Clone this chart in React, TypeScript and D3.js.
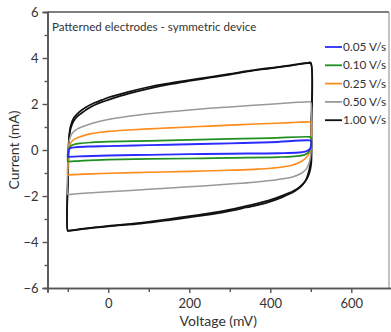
import React, { useRef, useEffect } from 'react';
import * as d3 from 'd3';

// scan rates and colours, legend order
const rates = ['0.05 V/s', '0.10 V/s', '0.25 V/s', '0.50 V/s', '1.00 V/s'];
const colors = ['#2b2bff', '#1f8f1f', '#ff8c1a', '#999999', '#111111'];

// [voltage mV, current mA], forward sweep then reverse sweep
const blueFwd = [[-100,-0.3],[-99,-0.1],[-97,0.02],[-92,0.09],[-80,0.12],[-50,0.15],[0,0.17],[100,0.21],[200,0.25],[300,0.29],[400,0.34],[497,0.42]];
const blueRev = [[500,0.4],[501,0.2],[498,0.05],[490,-0.05],[470,-0.11],[420,-0.14],[300,-0.16],[200,-0.18],[100,-0.21],[0,-0.24],[-60,-0.27],[-98,-0.3]];

const greenFwd = [[-100,-0.5],[-99,-0.2],[-97,0.05],[-93,0.17],[-85,0.24],[-70,0.29],[-40,0.33],[0,0.36],[100,0.4],[200,0.44],[300,0.48],[400,0.52],[497,0.57]];
const greenRev = [[500,0.55],[501,0.25],[499,0.05],[494,-0.1],[485,-0.2],[465,-0.27],[420,-0.31],[300,-0.34],[200,-0.37],[100,-0.39],[0,-0.42],[-60,-0.46],[-98,-0.5]];

const orangeFwd = [[-100,-1.08],[-99,-0.4],[-97,0.05],[-93,0.3],[-85,0.45],[-70,0.57],[-45,0.7],[-20,0.77],[0,0.81],[50,0.87],[100,0.92],[150,0.96],[200,1.0],[250,1.04],[300,1.08],[350,1.12],[400,1.15],[450,1.19],[497,1.22]];
const orangeRev = [[500,1.2],[501,0.4],[500,0.05],[496,-0.15],[488,-0.35],[474,-0.52],[455,-0.65],[420,-0.76],[370,-0.83],[300,-0.88],[200,-0.93],[100,-0.97],[0,-1.01],[-60,-1.05],[-98,-1.08]];

const grayFwd = [[-100,-1.93],[-99,-0.5],[-97,0.3],[-94,0.55],[-88,0.75],[-75,0.93],[-50,1.1],[-20,1.25],[0,1.33],[50,1.47],[100,1.58],[150,1.66],[200,1.74],[250,1.81],[300,1.87],[350,1.93],[400,1.99],[450,2.05],[497,2.1]];
const grayRev = [[500,2.08],[501,0.5],[500,-0.2],[497,-0.5],[490,-0.8],[478,-1.0],[455,-1.17],[420,-1.28],[360,-1.4],[300,-1.48],[200,-1.6],[100,-1.71],[0,-1.82],[-60,-1.88],[-98,-1.93]];

// two black cycles (they nearly overlap)
const blackFwd1 = [[-100,-3.52],[-99,-1],[-98,0.2],[-96,0.65],[-92,0.98],[-85,1.27],[-75,1.48],[-60,1.68],[-40,1.9],[-20,2.06],[0,2.18],[50,2.45],[100,2.67],[150,2.85],[200,3.0],[250,3.14],[300,3.28],[350,3.43],[400,3.55],[450,3.67],[495,3.78]];
const blackRev1 = [[500,3.76],[501,1],[500,-0.3],[498,-0.7],[494,-1.0],[488,-1.3],[478,-1.55],[460,-1.8],[430,-2.05],[390,-2.3],[340,-2.5],[280,-2.72],[220,-2.88],[150,-3.05],[80,-3.2],[0,-3.32],[-60,-3.43],[-98,-3.52]];
const blackFwd2 = [[-100,-3.5],[-99,-0.8],[-97,0.4],[-95,0.85],[-91,1.15],[-84,1.42],[-72,1.65],[-55,1.86],[-35,2.04],[-15,2.18],[0,2.28],[50,2.53],[100,2.74],[150,2.9],[200,3.04],[250,3.17],[300,3.31],[350,3.45],[400,3.57],[450,3.68],[495,3.8]];
const blackRev2 = [[500,3.8],[502,1],[502,-0.2],[501,-0.6],[498,-0.9],[492,-1.2],[482,-1.45],[465,-1.7],[435,-1.95],[395,-2.2],[345,-2.42],[285,-2.65],[220,-2.83],[150,-3.0],[80,-3.17],[0,-3.3],[-60,-3.42],[-98,-3.5]];

const xMajor = [0, 200, 400, 600];
const xMinor = [-100, 100, 300, 500];
const yMajor = [-6, -4, -2, 0, 2, 4, 6];
const yMinor = [-5, -3, -1, 1, 3, 5];

const W = 391, H = 332;
const font = 'Lato, "Open Sans", sans-serif';

const App = () => {
  const xAxisRef = useRef(null);
  const yAxisRef = useRef(null);

  const x = d3.scaleLinear().domain([-150, 700]).range([47.5, 391.8]);
  const y = d3.scaleLinear().domain([-6, 6]).range([288, 12]);

  useEffect(() => {
    const gx = d3.select(xAxisRef.current);
    gx.selectAll('*').remove();
    gx.append('g').call(d3.axisBottom(x).tickValues(xMajor).tickSize(5).tickPadding(6));
    gx.append('g').call(d3.axisBottom(x).tickValues(xMinor).tickSize(4).tickFormat(() => ''));
    gx.selectAll('.domain').attr('stroke', '#555').attr('stroke-width', 1.6);
    gx.selectAll('line').attr('stroke', '#555').attr('stroke-width', 1.4);
    gx.selectAll('text').attr('font-family', font).attr('font-size', 13).attr('fill', '#333');

    const gy = d3.select(yAxisRef.current);
    gy.selectAll('*').remove();
    gy.append('g').call(d3.axisLeft(y).tickValues(yMajor).tickSize(5).tickPadding(4));
    gy.append('g').call(d3.axisLeft(y).tickValues(yMinor).tickSize(3).tickFormat(() => ''));
    gy.selectAll('.domain').attr('stroke', '#555').attr('stroke-width', 1.6);
    gy.selectAll('line').attr('stroke', '#555').attr('stroke-width', 1.4);
    gy.selectAll('text').attr('font-family', font).attr('font-size', 13).attr('fill', '#333');
  }, []);

  const line = d3.line()
    .x((d) => x(d[0]))
    .y((d) => y(d[1]))
    .curve(d3.curveCatmullRomClosed.alpha(0.5));

  const loops = [
    { pts: blackFwd1.concat(blackRev1), c: colors[4], w: 1.7 },
    { pts: blackFwd2.concat(blackRev2), c: colors[4], w: 1.7 },
    { pts: grayFwd.concat(grayRev), c: colors[3], w: 1.5 },
    { pts: orangeFwd.concat(orangeRev), c: colors[2], w: 1.6 },
    { pts: greenFwd.concat(greenRev), c: colors[1], w: 1.7 },
    { pts: blueFwd.concat(blueRev), c: colors[0], w: 1.9 },
  ];

  return (
    <svg width={W} height={H} style={{ position: 'absolute', left: 0, top: 0, background: '#fff' }}>
      {/* frame, top and right */}
      <line x1={47.5} x2={389} y1={12} y2={12} stroke="#555" strokeWidth={1.4} />
      <line x1={389} x2={389} y1={12} y2={288} stroke="#888" strokeWidth={1} />

      {loops.map((l, i) => (
        <path key={i} d={line(l.pts)} fill="none" stroke={l.c} strokeWidth={l.w} strokeLinejoin="round" />
      ))}

      <g ref={xAxisRef} transform={`translate(0,${288})`} />
      <g ref={yAxisRef} transform={`translate(${47.5},0)`} />

      <text x={52} y={31} fontFamily={font} fontSize={11.6} fill="#333">Patterned electrodes - symmetric device</text>

      {rates.map((r, i) => (
        <g key={r} transform={`translate(325,${47 + i * 18.3})`}>
          <line x1={0} x2={17} y1={0} y2={0} stroke={colors[i]} strokeWidth={1.8} />
          <text x={18} y={4} fontFamily={font} fontSize={11.8} fill="#333">{r}</text>
        </g>
      ))}

      <text x={(x(-150) + 389) / 2} y={326} textAnchor="middle" fontFamily={font} fontSize={14} fill="#333">Voltage (mV)</text>
      <text transform={`translate(19,${y(0)}) rotate(-90)`} textAnchor="middle" fontFamily={font} fontSize={14} fill="#333">Current (mA)</text>
    </svg>
  );
};

export default App;
